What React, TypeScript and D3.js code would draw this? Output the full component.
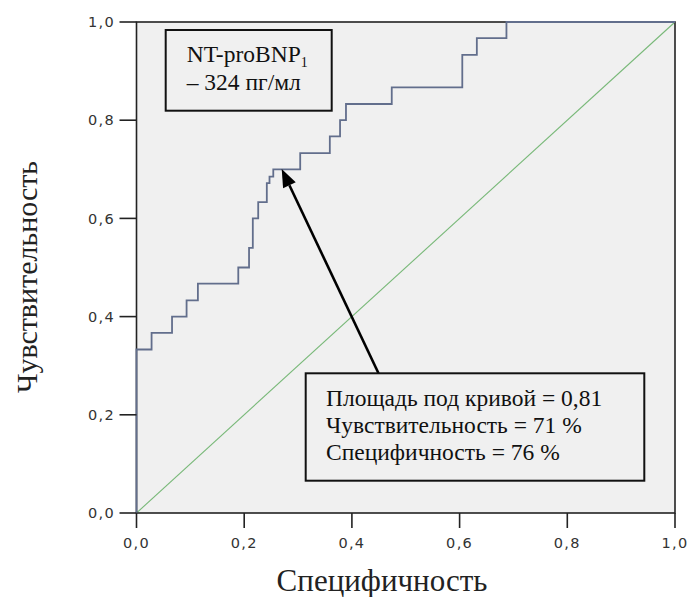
import React from "react";
import * as d3 from "d3";

// ROC curve vertices (1 - specificity, sensitivity), stepped
const fprValues = [0, 0, 0.028, 0.066, 0.093, 0.114, 0.189, 0.209, 0.216, 0.226, 0.242, 0.247, 0.254, 0.304, 0.359, 0.378, 0.389, 0.474, 0.605, 0.632, 0.687, 1];
const tprValues = [0, 0.333, 0.367, 0.4, 0.433, 0.467, 0.5, 0.54, 0.6, 0.633, 0.672, 0.685, 0.7, 0.733, 0.767, 0.8, 0.833, 0.867, 0.933, 0.967, 1, 1];
const referenceLine = [0, 1];
const tickValues = [0, 0.2, 0.4, 0.6, 0.8, 1.0];
const tickLabels = ["0,0", "0,2", "0,4", "0,6", "0,8", "1,0"];
const xTitle = "Специфичность";
const yTitle = "Чувствительность";
const cutoffLabel = ["NT-proBNP", "1", "– 324 пг/мл"];
const statsLines = ["Площадь под кривой = 0,81", "Чувствительность = 71 %", "Специфичность = 76 %"];

export default function App() {
  const W = 691, H = 597;
  const x = d3.scaleLinear().domain([0, 1]).range([136.5, 675]);
  const y = d3.scaleLinear().domain([0, 1]).range([513, 22]);
  const pts = fprValues.map((v, i) => [v, tprValues[i]] as [number, number]);
  const line = d3.line<[number, number]>().x(d => x(d[0])).y(d => y(d[1])).curve(d3.curveStepAfter);
  const diag = d3.line<number>().x(d => x(d)).y(d => y(d));

  const tipX = 281.7, tipY = 169;
  const tailX = 378.5, tailY = 373.3;
  const ang = Math.atan2(tailY - tipY, tailX - tipX);
  const hl = 18, hw = 7;
  const bx = tipX + hl * Math.cos(ang), by = tipY + hl * Math.sin(ang);
  const head = [
    [tipX, tipY],
    [bx + hw * Math.sin(ang), by - hw * Math.cos(ang)],
    [bx - hw * Math.sin(ang), by + hw * Math.cos(ang)],
  ];

  const tickFont = { fontFamily: "'DejaVu Sans', sans-serif", fontSize: 14.5, fill: "#333", letterSpacing: 1.3 } as const;
  const serif = "'Liberation Serif', 'Times New Roman', serif";

  return (
    <svg width={W} height={H} style={{ position: "absolute", left: 0, top: 0, background: "#fff" }}>
      <rect x={x(0)} y={y(1)} width={x(1) - x(0)} height={y(0) - y(1)} fill="#f0f0f0" />
      <path d={diag(referenceLine) || ""} stroke="#78b878" strokeWidth={1.1} fill="none" />
      {/* frame */}
      <rect x={x(0)} y={y(1)} width={x(1) - x(0)} height={y(0) - y(1)} fill="none" stroke="#222" strokeWidth={1.6} />
      <path d={line(pts) || ""} stroke="#626e8c" strokeWidth={1.8} fill="none" />
      {/* ticks */}
      {tickValues.map((t, i) => (
        <g key={"x" + i}>
          <line x1={x(t)} x2={x(t)} y1={y(0)} y2={y(0) + 15} stroke="#222" strokeWidth={1.6} />
          <text x={x(t)} y={548} textAnchor="middle" {...tickFont}>{tickLabels[i]}</text>
        </g>
      ))}
      {tickValues.map((t, i) => (
        <g key={"y" + i}>
          <line x1={x(0) - 17} x2={x(0)} y1={y(t)} y2={y(t)} stroke="#222" strokeWidth={1.6} />
          <text x={115} y={y(t)} dy="0.36em" textAnchor="end" {...tickFont}>{tickLabels[i]}</text>
        </g>
      ))}
      {/* titles */}
      <text x={382} y={591} textAnchor="middle" fontFamily={serif} fontSize={31} fill="#222">{xTitle}</text>
      <text transform="translate(37,277) rotate(-90)" textAnchor="middle" fontFamily={serif} fontSize={30} fill="#222">{yTitle}</text>
      {/* cutoff box */}
      <rect x={165.7} y={30} width={166} height={80.7} fill="#f0f0f0" stroke="#111" strokeWidth={2} />
      <text x={186.7} y={62} fontFamily={serif} fontSize={23.5} fill="#111">
        {cutoffLabel[0]}
        <tspan fontSize={14} dy={5}>{cutoffLabel[1]}</tspan>
      </text>
      <text x={186.7} y={90} fontFamily={serif} fontSize={23.5} fill="#111">{cutoffLabel[2]}</text>
      {/* arrow */}
      <line x1={tailX} y1={tailY} x2={bx} y2={by} stroke="#000" strokeWidth={2.6} />
      <polygon points={head.map(p => p.join(",")).join(" ")} fill="#000" />
      {/* stats box */}
      <rect x={305.7} y={373.3} width={338.6} height={107.4} fill="#f0f0f0" stroke="#111" strokeWidth={2} />
      {statsLines.map((s, i) => (
        <text key={i} x={326} y={406 + i * 27} fontFamily={serif} fontSize={23.5} fill="#111">{s}</text>
      ))}
    </svg>
  );
}
